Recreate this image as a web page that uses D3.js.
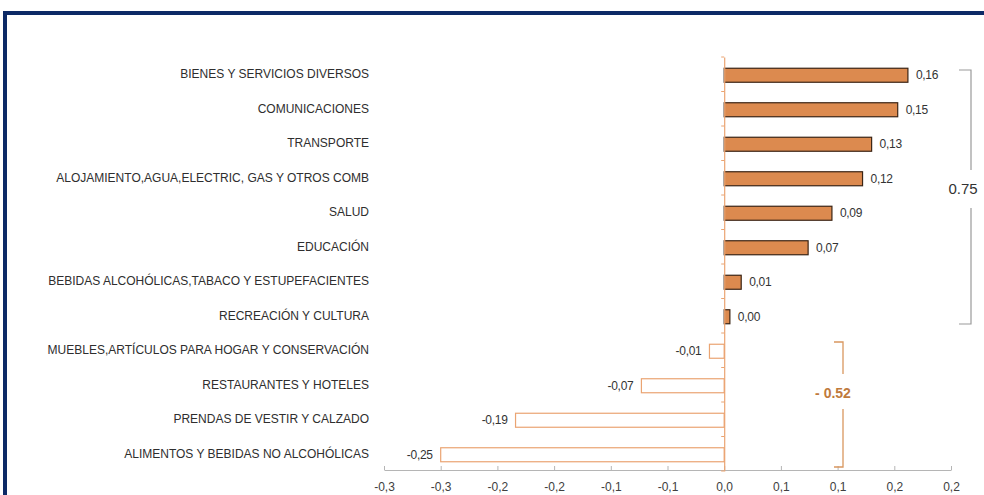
<!DOCTYPE html>
<html>
<head>
<meta charset="utf-8">
<script src="https://cdn.jsdelivr.net/npm/d3@7"></script>
<style>
  html, body { margin: 0; padding: 0; background: #fff; }
  svg { display: block; font-family: "Liberation Sans", Arial, sans-serif; }
</style>
</head>
<body>
<svg id="chart" width="984" height="495"></svg>
<script>
const categories = [
  "BIENES Y SERVICIOS DIVERSOS",
  "COMUNICACIONES",
  "TRANSPORTE",
  "ALOJAMIENTO,AGUA,ELECTRIC, GAS Y OTROS COMB",
  "SALUD",
  "EDUCACIÓN",
  "BEBIDAS ALCOHÓLICAS,TABACO Y ESTUPEFACIENTES",
  "RECREACIÓN Y CULTURA",
  "MUEBLES,ARTÍCULOS PARA HOGAR Y CONSERVACIÓN",
  "RESTAURANTES Y HOTELES",
  "PRENDAS DE VESTIR Y CALZADO",
  "ALIMENTOS Y BEBIDAS NO ALCOHÓLICAS"
];
const values = [0.162, 0.153, 0.130, 0.122, 0.095, 0.074, 0.015, 0.005, -0.013, -0.073, -0.184, -0.25];
const valueLabels = ["0,16", "0,15", "0,13", "0,12", "0,09", "0,07", "0,01", "0,00", "-0,01", "-0,07", "-0,19", "-0,25"];
const tickValues = [-0.30, -0.25, -0.20, -0.15, -0.10, -0.05, 0, 0.05, 0.10, 0.15, 0.20];
const tickLabels = ["-0,3", "-0,3", "-0,2", "-0,2", "-0,1", "-0,1", "0,0", "0,1", "0,1", "0,2", "0,2"];
const positiveTotal = "0.75";
const negativeTotal = "- 0.52";

const svg = d3.select("#chart");

// frame
svg.append("rect")
  .attr("x", 5).attr("y", 13).attr("width", 1000).attr("height", 500)
  .attr("fill", "#fff").attr("stroke", "#0d2a66").attr("stroke-width", 4);

const x = d3.scaleLinear().domain([-0.30, 0.20]).range([384, 951]);
const y = d3.scaleBand().domain(categories).range([57, 471]).paddingInner(0).paddingOuter(0);
const barH = 14;

// x axis
const xAxis = d3.axisBottom(x).tickValues(tickValues)
  .tickFormat((d, i) => tickLabels[i]).tickSize(0).tickPadding(12);
const gx = svg.append("g").attr("transform", "translate(0,470)").call(xAxis);
gx.select(".domain").attr("stroke", "#b5b5b5").attr("stroke-width", 1);
gx.selectAll(".tick text").attr("fill", "#404040").style("font-size", "12px");
gx.selectAll(".tick").append("line")
  .attr("y1", 0).attr("y2", -4).attr("stroke", "#b5b5b5");

// bars
const zero = x(0);
svg.append("g").selectAll("rect").data(values).join("rect")
  .attr("x", d => d >= 0 ? zero : x(d))
  .attr("y", (d, i) => y(categories[i]) + y.bandwidth() / 2 - barH / 2 + 1)
  .attr("width", d => Math.abs(x(d) - zero))
  .attr("height", barH)
  .attr("fill", d => d >= 0 ? "#dc8a4f" : "#ffffff")
  .attr("stroke", d => d >= 0 ? "#3b2414" : "#eaa472")
  .attr("stroke-width", 1.2);

// vertical axis (at zero)
const yAxis = d3.axisLeft(y).tickSize(0).tickFormat("");
const gy = svg.append("g").attr("transform", `translate(${zero},0)`).call(yAxis);
gy.select(".domain").attr("stroke", "#eaa472").attr("stroke-width", 1.2);
svg.append("g").selectAll("line").data(categories.concat(["end"])).join("line")
  .attr("x1", zero - 3).attr("x2", zero)
  .attr("y1", (d, i) => 57 + i * y.step())
  .attr("y2", (d, i) => 57 + i * y.step())
  .attr("stroke", "#eaa472").attr("stroke-width", 1);

// category labels
svg.append("g").selectAll("text").data(categories).join("text")
  .attr("x", 369)
  .attr("y", d => y(d) + y.bandwidth() / 2)
  .attr("dy", "0.35em")
  .attr("text-anchor", "end")
  .attr("fill", "#2e2e2e")
  .style("font-size", "12px")
  .text(d => d);

// value labels
svg.append("g").selectAll("text").data(values).join("text")
  .attr("x", d => d >= 0 ? x(d) + 8 : x(d) - 8)
  .attr("y", (d, i) => y(categories[i]) + y.bandwidth() / 2 + 1)
  .attr("dy", "0.35em")
  .attr("text-anchor", d => d >= 0 ? "start" : "end")
  .attr("fill", "#333")
  .style("font-size", "12px")
  .style("letter-spacing", "-0.3px")
  .text((d, i) => valueLabels[i]);

// bracket for positives
const posTop = y(categories[0]) + 13, posBot = y(categories[7]) + y.bandwidth() - 9;
const bx = 971;
svg.append("path")
  .attr("d", `M${bx - 12},${posTop} L${bx},${posTop} L${bx},${posTop + 100} M${bx},${posTop + 138} L${bx},${posBot} L${bx - 12},${posBot}`)
  .attr("fill", "none").attr("stroke", "#9a9a9a").attr("stroke-width", 1.2);
svg.append("text")
  .attr("x", bx - 8).attr("y", (posTop + 100 + posTop + 138) / 2)
  .attr("dy", "0.35em").attr("text-anchor", "middle")
  .attr("fill", "#333").style("font-size", "15px")
  .text(positiveTotal);

// bracket for negatives
const negTop = y(categories[8]) + 9, negBot = y(categories[11]) + y.bandwidth() - 4;
const nx = 843;
svg.append("path")
  .attr("d", `M${nx - 9},${negTop} L${nx},${negTop} L${nx},${negTop + 32} M${nx},${negTop + 67} L${nx},${negBot} L${nx - 9},${negBot}`)
  .attr("fill", "none").attr("stroke", "#d9975f").attr("stroke-width", 1.3);
svg.append("text")
  .attr("x", nx - 10).attr("y", negTop + 51)
  .attr("dy", "0.35em").attr("text-anchor", "middle")
  .attr("fill", "#c07a3c").style("font-size", "14px").style("font-weight", "bold")
  .text(negativeTotal);
</script>
</body>
</html>
